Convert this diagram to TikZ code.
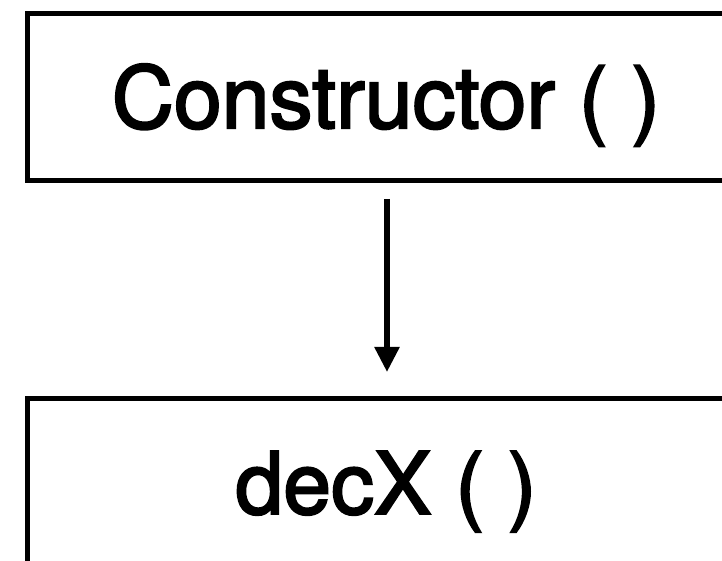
\documentclass[tikz,border=0pt]{standalone}
\usepackage{fontspec}
\setmainfont{TeX Gyre Heros}
\newfontfamily\heavyfont{TeX Gyre Heros}[FakeBold=2.5]
\usetikzlibrary{arrows.meta}
\begin{document}
\begin{tikzpicture}[x=1pt,y=1pt,
  fnbox/.style={draw=black, line width=5pt, fill=white, rectangle,
    minimum width=717pt, minimum height=167.5pt, inner sep=0pt,
    font=\heavyfont\fontsize{86pt}{90pt}\selectfont, text height=61.7pt, text depth=0pt},
  flow/.style={line width=5.5pt, -{Triangle[width=24pt,length=25pt]}}]
\clip (0,0) rectangle (722,561);
\fill[white] (0,0) rectangle (722,561);
\node[fnbox] (ctor) at (386,463.75) {Constructor ( )};
\node[fnbox, minimum height=168pt] (dec) at (386,78) {decX ( )};
\draw[flow, shorten <=15.5pt, shorten >=24.5pt] ([xshift=1pt]ctor.south) -- ([xshift=1pt]dec.north);
\end{tikzpicture}
\end{document}
